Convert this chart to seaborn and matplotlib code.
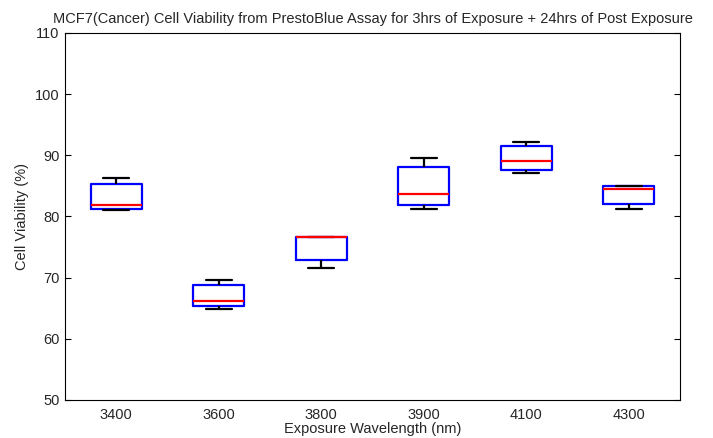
import matplotlib
matplotlib.use("Agg")
import matplotlib.pyplot as plt
import seaborn as sns
import pandas as pd

# wavelength groups and 5-number summaries (min, q1, median, q3, max)
wavelengths = ["3400", "3600", "3800", "3900", "4100", "4300"]
v3400 = [81.06, 81.23, 81.88, 85.27, 86.3]
v3600 = [64.88, 65.37, 66.19, 68.8, 69.57]
v3800 = [71.58, 72.84, 76.7, 76.7, 76.7]
v3900 = [81.18, 81.83, 83.73, 88.14, 89.61]
v4100 = [87.07, 87.56, 89.07, 91.48, 92.18]
v4300 = [81.18, 82.0, 84.45, 84.99, 84.99]

yticks = [50, 60, 70, 80, 90, 100, 110]

rows = []
for wl, vals in zip(wavelengths, [v3400, v3600, v3800, v3900, v4100, v4300]):
    for v in vals:
        rows.append({"wl": wl, "viab": v})
df = pd.DataFrame(rows)

sns.set_style("white")
plt.rcParams["font.family"] = ["Liberation Sans", "DejaVu Sans"]

fig = plt.figure(figsize=(7.13, 4.38), dpi=100)
ax = fig.add_axes([0.0912, 0.0868, 0.8626, 0.8379])

sns.boxplot(
    data=df, x="wl", y="viab", order=wavelengths,
    whis=(0, 100), width=0.5, fill=False, showfliers=False,
    boxprops=dict(color="#0000ff", linewidth=1.6),
    medianprops=dict(color="#ff0000", linewidth=1.6),
    whiskerprops=dict(color="black", linewidth=1.6),
    capprops=dict(color="black", linewidth=1.6),
    ax=ax,
)

ax.set_ylim(50, 110)
ax.set_yticks(yticks)
ax.set_xlim(-0.5, 5.5)
ax.tick_params(axis="y", direction="in", length=4, right=True, left=True,
               labelsize=10.5, color="black", width=0.8, pad=4)
ax.tick_params(axis="x", length=0, labelsize=10.5, pad=6)
for s in ax.spines.values():
    s.set_color("black")
    s.set_linewidth(0.8)

ax.set_xlabel("Exposure Wavelength (nm)", fontsize=10.5, labelpad=0)
ax.set_ylabel("Cell Viability (%)", fontsize=10.5)
ax.set_title("MCF7(Cancer) Cell Viability from PrestoBlue Assay for 3hrs of Exposure + 24hrs of Post Exposure",
             fontsize=10.5, pad=7)

fig.savefig("out.png", dpi=100)
plt.close(fig)
